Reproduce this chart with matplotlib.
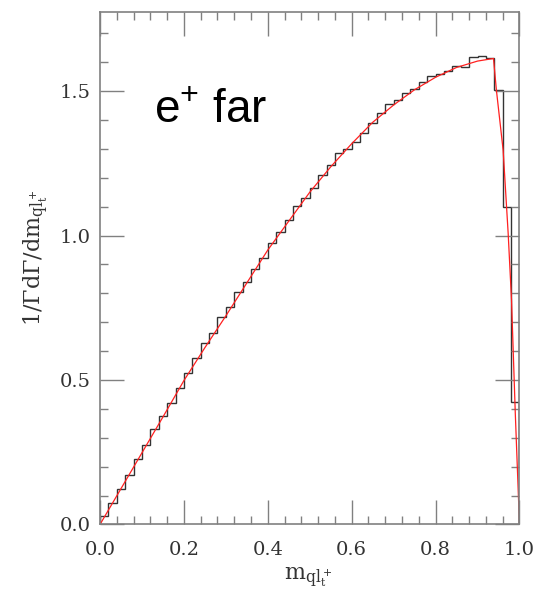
import numpy as np
import matplotlib
matplotlib.use("Agg")
import matplotlib.pyplot as plt

plt.rcParams['mathtext.fontset'] = 'dejavuserif'

# histogram of m_{ql}, 50 bins on [0, 1]
bin_edges = np.linspace(0.0, 1.0, 51)
hist_vals = [0.029, 0.075, 0.122, 0.172, 0.225, 0.276, 0.330, 0.374, 0.421, 0.471,
             0.524, 0.575, 0.627, 0.664, 0.719, 0.754, 0.806, 0.838, 0.886, 0.921,
             0.975, 1.012, 1.053, 1.101, 1.129, 1.163, 1.209, 1.244, 1.285, 1.300,
             1.325, 1.354, 1.388, 1.423, 1.454, 1.471, 1.494, 1.506, 1.530, 1.552,
             1.561, 1.570, 1.588, 1.584, 1.617, 1.622, 1.613, 1.503, 1.100, 0.425]

# analytic curve
curve_x = [0.0, 0.05, 0.1, 0.15, 0.2, 0.25, 0.3, 0.35, 0.4, 0.45, 0.5, 0.55, 0.6,
           0.65, 0.7, 0.75, 0.8, 0.85, 0.9, 0.938, 0.945, 0.961, 0.973, 0.981, 0.99, 1.0]
curve_y = [0.0, 0.124, 0.248, 0.372, 0.498, 0.612, 0.722, 0.836, 0.950, 1.050, 1.150,
           1.238, 1.318, 1.392, 1.452, 1.505, 1.548, 1.582, 1.604, 1.613, 1.503, 1.296,
           1.008, 0.777, 0.385, 0.0]

fig = plt.figure(figsize=(5.54, 5.99), dpi=100)
ax = fig.add_axes([0.1805, 0.1244, 0.7572, 0.8561])

ax.stairs(hist_vals, bin_edges, baseline=0, color='#333333', lw=1.0)
ax.plot(curve_x, curve_y, color='#ff2020', lw=0.9)

ax.set_xlim(0, 1)
ax.set_ylim(0, 1.775)
ax.set_xticks(np.arange(0, 1.01, 0.2))
ax.set_xticks(np.arange(0, 1.001, 0.04), minor=True)
ax.set_yticks([0.0, 0.5, 1.0, 1.5])
ax.set_yticks(np.arange(0, 1.78, 0.1), minor=True)
ax.set_xticklabels(['0.0', '0.2', '0.4', '0.6', '0.8', '1.0'])
ax.set_yticklabels(['0.0', '0.5', '1.0', '1.5'])

gray = '#808080'
for s in ax.spines.values():
    s.set_color(gray)
    s.set_linewidth(1.2)
ax.tick_params(which='both', direction='in', top=True, right=True, color=gray, width=1.0)
ax.tick_params(which='major', length=17)
ax.tick_params(which='minor', length=6)
ax.tick_params(axis='x', which='major', pad=12)
ax.tick_params(axis='y', which='major', pad=7)
for lab in ax.get_xticklabels() + ax.get_yticklabels():
    lab.set_family('DejaVu Serif')
    lab.set_fontsize(14)
    lab.set_color('#333333')

plt.rcParams['mathtext.default'] = 'regular'
ax.text(0.129, 1.389, 'e$^{+}$ far', family='Liberation Sans', fontsize=33,
        va='baseline', ha='left')

fig.text(36 / 554, 1 - 258 / 599, r'$\mathrm{1/\Gamma d\Gamma/dm_{ql_t^+}}$',
         rotation=90, ha='center', va='center', fontsize=16, color='#333333')
fig.text(308 / 554, 1 - 577 / 599, r'$\mathrm{m_{ql_t^+}}$',
         ha='center', va='center', fontsize=16, color='#333333')

fig.savefig('out.png', dpi=100)
